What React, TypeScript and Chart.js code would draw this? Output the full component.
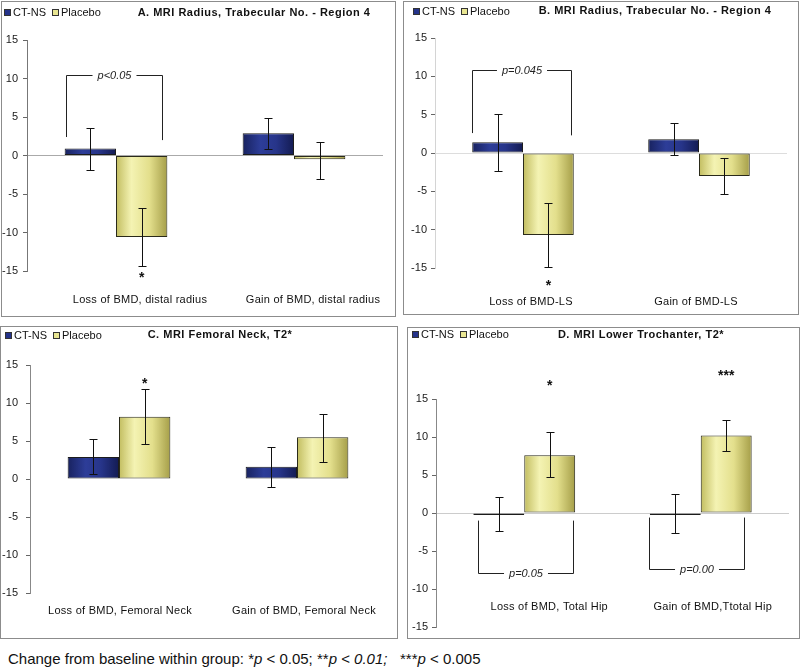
import React, { useEffect, useRef } from "react";
import { Chart, registerables } from "chart.js";
Chart.register(...registerables);

const seriesNames = ["CT-NS", "Placebo"];
const yTicks = [-15, -10, -5, 0, 5, 10, 15];

// Panel A
const titleA = "A. MRI Radius, Trabecular No. - Region 4";
const catsA = ["Loss of BMD, distal radius", "Gain of BMD, distal radius"];
const ctnsA = [0.9, 2.9];
const ctnsHiA = [3.6, 4.9];
const ctnsLoA = [-1.9, 0.8];
const placA = [-10.6, -0.5];
const placHiA = [-6.8, 1.8];
const placLoA = [-14.3, -3.0];

// Panel B
const titleB = "B. MRI Radius, Trabecular No. - Region 4";
const catsB = ["Loss of BMD-LS", "Gain of BMD-LS"];
const ctnsB = [1.4, 1.8];
const ctnsHiB = [5.1, 3.9];
const ctnsLoB = [-2.4, -0.2];
const placB = [-10.7, -3.0];
const placHiB = [-6.5, -0.7];
const placLoB = [-14.9, -5.4];

// Panel C
const titleC = "C. MRI Femoral Neck, T2*";
const catsC = ["Loss of BMD, Femoral Neck", "Gain of BMD, Femoral Neck"];
const ctnsC = [2.9, 1.6];
const ctnsHiC = [5.3, 4.2];
const ctnsLoC = [0.6, -1.1];
const placC = [8.2, 5.5];
const placHiC = [11.8, 8.5];
const placLoC = [4.6, 2.3];

// Panel D
const titleD = "D. MRI Lower Trochanter, T2*";
const catsD = ["Loss of BMD, Total Hip", "Gain of BMD,Ttotal Hip"];
const ctnsD = [-0.25, -0.25];
const ctnsHiD = [2.1, 2.5];
const ctnsLoD = [-2.4, -2.6];
const placD = [7.6, 10.2];
const placHiD = [10.6, 12.3];
const placLoD = [4.75, 8.2];

// significance annotations (values on the y scale)
const bracketsA = [{ cat: 0, from: -0.283, to: 0.261, startL: 2.4, startR: 2.0, end: 10.4, text: "p<0.05" }];
const bracketsB = [{ cat: 0, from: -0.291, to: 0.274, startL: 2.6, startR: 2.3, end: 10.8, text: "p=0.045" }];
const bracketsC: any[] = [];
const bracketsD = [
  { cat: 0, from: -0.264, to: 0.277, startL: -1.0, startR: -1.0, end: -7.9, text: "p=0.05" },
  { cat: 1, from: -0.293, to: 0.245, startL: -0.6, startR: -0.6, end: -7.4, text: "p=0.00" },
];
const starsA = [{ ds: 1, cat: 0, value: -15.4, text: "*" }];
const starsB = [{ ds: 1, cat: 0, value: -16.8, text: "*" }];
const starsC = [{ ds: 1, cat: 0, value: 13.0, text: "*" }];
const starsD = [
  { ds: 1, cat: 0, value: 17.3, text: "*" },
  { ds: 1, cat: 1, value: 18.6, text: "***" },
];

const FONT = '"Liberation Sans", Arial, sans-serif';

type PanelCfg = {
  key: string;
  title: string;
  cats: string[];
  ctns: number[];
  ctnsHi: number[];
  ctnsLo: number[];
  plac: number[];
  placHi: number[];
  placLo: number[];
  brackets: any[];
  stars: any[];
  box: { left: number; top: number; width: number; height: number };
  area: { left: number; top: number; right: number; bottom: number };
  tickPad: number;
  axisColor: string;
  zeroColor: string;
  labelDx: number[];
  labelDy: number;
  legend: { x: number; y: number };
  titlePos: { x: number; y: number };
};

const panels: PanelCfg[] = [
  {
    key: "A", title: titleA, cats: catsA,
    ctns: ctnsA, ctnsHi: ctnsHiA, ctnsLo: ctnsLoA, plac: placA, placHi: placHiA, placLo: placLoA,
    brackets: bracketsA, stars: starsA,
    box: { left: 1, top: 1, width: 395, height: 316 },
    area: { left: 27, top: 40, right: 383, bottom: 271 },
    tickPad: 5, axisColor: "#777", zeroColor: "#aaa",
    labelDx: [24, 19], labelDy: 29,
    legend: { x: 4, y: 12 }, titlePos: { x: 254, y: 13 },
  },
  {
    key: "B", title: titleB, cats: catsB,
    ctns: ctnsB, ctnsHi: ctnsHiB, ctnsLo: ctnsLoB, plac: placB, placHi: placHiB, placLo: placLoB,
    brackets: bracketsB, stars: starsB,
    box: { left: 403, top: 1, width: 396, height: 314 },
    area: { left: 435, top: 38, right: 787, bottom: 268 },
    tickPad: 4, axisColor: "#d4d4d4", zeroColor: "#ddd",
    labelDx: [8, -3], labelDy: 34,
    legend: { x: 413, y: 11 }, titlePos: { x: 655, y: 11 },
  },
  {
    key: "C", title: titleC, cats: catsC,
    ctns: ctnsC, ctnsHi: ctnsHiC, ctnsLo: ctnsLoC, plac: placC, placHi: placHiC, placLo: placLoC,
    brackets: bracketsC, stars: starsC,
    box: { left: 0, top: 326, width: 398, height: 313 },
    area: { left: 30, top: 365, right: 386, bottom: 593 },
    tickPad: 8, axisColor: "#888", zeroColor: "rgba(0,0,0,0)",
    labelDx: [1, 7], labelDy: 18,
    legend: { x: 5, y: 335 }, titlePos: { x: 220, y: 335 },
  },
  {
    key: "D", title: titleD, cats: catsD,
    ctns: ctnsD, ctnsHi: ctnsHiD, ctnsLo: ctnsLoD, plac: placD, placHi: placHiD, placLo: placLoD,
    brackets: bracketsD, stars: starsD,
    box: { left: 407, top: 327, width: 393, height: 312 },
    area: { left: 436, top: 399, right: 789, bottom: 627 },
    tickPad: 4, axisColor: "#888", zeroColor: "#ccc",
    labelDx: [25, 12], labelDy: -20,
    legend: { x: 412, y: 334 }, titlePos: { x: 641, y: 335 },
  },
];

const CAT_PCT = 0.577;

function barGradient(ds: number) {
  return (c: any) => {
    const chart = c.chart;
    const area = chart.chartArea;
    if (!area || c.dataIndex === undefined) return ds === 0 ? "#22307f" : "#e6e38c";
    const xs = chart.scales.x;
    const catW = (area.right - area.left) / chart.data.labels.length;
    const bw = (catW * CAT_PCT) / 2;
    const center = xs.getPixelForValue(c.dataIndex) + (ds === 0 ? -bw / 2 : bw / 2);
    const g = chart.ctx.createLinearGradient(center - bw / 2, 0, center + bw / 2, 0);
    if (ds === 0) {
      g.addColorStop(0, "#18225f");
      g.addColorStop(0.35, "#2d3d98");
      g.addColorStop(0.65, "#27358a");
      g.addColorStop(1, "#131b52");
    } else {
      g.addColorStop(0, "#c2bd60");
      g.addColorStop(0.3, "#f4f3b3");
      g.addColorStop(0.65, "#e3df8c");
      g.addColorStop(1, "#a59e48");
    }
    return g;
  };
}

function makeDeco(p: PanelCfg, cl: number, ct: number) {
  return {
    id: "deco" + p.key,
    afterDatasetsDraw(chart: any) {
      const ctx = chart.ctx as CanvasRenderingContext2D;
      const area = chart.chartArea;
      const xs = chart.scales.x;
      const ys = chart.scales.y;
      const catW = (area.right - area.left) / p.cats.length;
      ctx.save();
      // error bars
      const his = [p.ctnsHi, p.placHi];
      const los = [p.ctnsLo, p.placLo];
      ctx.strokeStyle = "#111";
      ctx.lineWidth = 1;
      for (let d = 0; d < 2; d++) {
        const meta = chart.getDatasetMeta(d);
        meta.data.forEach((el: any, i: number) => {
          const x = Math.round(el.x) + 0.5;
          const yh = Math.round(ys.getPixelForValue(his[d][i])) + 0.5;
          const yl = Math.round(ys.getPixelForValue(los[d][i])) + 0.5;
          ctx.beginPath();
          ctx.moveTo(x, yh);
          ctx.lineTo(x, yl);
          ctx.moveTo(x - 4, yh);
          ctx.lineTo(x + 4, yh);
          ctx.moveTo(x - 4, yl);
          ctx.lineTo(x + 4, yl);
          ctx.stroke();
        });
      }
      // brackets
      ctx.font = `italic 11px ${FONT}`;
      ctx.textAlign = "center";
      ctx.textBaseline = "middle";
      ctx.strokeStyle = "#222";
      p.brackets.forEach((b: any) => {
        const c0 = xs.getPixelForValue(b.cat);
        const x0 = Math.round(c0 + b.from * catW) + 0.5;
        const x1 = Math.round(c0 + b.to * catW) + 0.5;
        const yE = Math.round(ys.getPixelForValue(b.end)) + 0.5;
        const yL = ys.getPixelForValue(b.startL);
        const yR = ys.getPixelForValue(b.startR);
        const mid = (x0 + x1) / 2;
        const tw = ctx.measureText(b.text).width;
        ctx.beginPath();
        ctx.moveTo(x0, yL);
        ctx.lineTo(x0, yE);
        ctx.lineTo(mid - tw / 2 - 5, yE);
        ctx.moveTo(mid + tw / 2 + 5, yE);
        ctx.lineTo(x1, yE);
        ctx.lineTo(x1, yR);
        ctx.stroke();
        ctx.fillStyle = "#222";
        ctx.fillText(b.text, mid, yE);
      });
      // stars
      ctx.font = `bold 14px ${FONT}`;
      ctx.textBaseline = "alphabetic";
      ctx.fillStyle = "#111";
      p.stars.forEach((s: any) => {
        const el = chart.getDatasetMeta(s.ds).data[s.cat];
        const y = ys.getPixelForValue(s.value);
        ctx.fillText(s.text, el.x, y + 0.57 * 14);
      });
      // category labels
      ctx.font = `11px ${FONT}`;
      (ctx as any).letterSpacing = "0.25px";
      ctx.textBaseline = "middle";
      ctx.fillStyle = "#111";
      p.cats.forEach((c, i) => {
        ctx.fillText(c, xs.getPixelForValue(i) + p.labelDx[i], area.bottom + p.labelDy);
      });
      // legend
      (ctx as any).letterSpacing = "0px";
      ctx.font = `11px ${FONT}`;
      ctx.textAlign = "left";
      const lx = p.legend.x - cl;
      const ly = p.legend.y - ct;
      const sw = [
        { x: lx, fill: "#25338a", text: seriesNames[0] },
        { x: lx + 48, fill: "#e9e692", text: seriesNames[1] },
      ];
      sw.forEach((s) => {
        ctx.fillStyle = s.fill;
        ctx.fillRect(s.x, ly - 3, 6, 6);
        ctx.strokeStyle = "#333";
        ctx.strokeRect(s.x + 0.5, ly - 2.5, 6, 6);
        ctx.fillStyle = "#111";
        ctx.fillText(s.text, s.x + 9, ly + 0.5);
      });
      // title
      ctx.font = `bold 11px ${FONT}`;
      (ctx as any).letterSpacing = "0.5px";
      ctx.textAlign = "center";
      ctx.fillStyle = "#111";
      ctx.fillText(p.title, p.titlePos.x - cl, p.titlePos.y - ct);
      (ctx as any).letterSpacing = "0px";
      ctx.restore();
    },
  };
}

function PanelChart({ p }: { p: PanelCfg }) {
  const ref = useRef<HTMLCanvasElement>(null);
  const cw = p.box.width - 2;
  const ch = p.box.height - 2;
  const cl = p.box.left + 1;
  const ct = p.box.top + 1;
  useEffect(() => {
    const chart = new Chart(ref.current as HTMLCanvasElement, {
      type: "bar",
      data: {
        labels: p.cats,
        datasets: [
          { label: seriesNames[0], data: p.ctns, backgroundColor: barGradient(0) as any, borderColor: "#1c1c1c", borderWidth: 1, borderSkipped: false },
          { label: seriesNames[1], data: p.plac, backgroundColor: barGradient(1) as any, borderColor: "#2a2a1a", borderWidth: 1, borderSkipped: false },
        ],
      },
      options: {
        responsive: false,
        maintainAspectRatio: false,
        animation: false,
        devicePixelRatio: 1,
        layout: {
          padding: {
            left: 0,
            top: p.area.top - ct,
            right: cl + cw - p.area.right,
            bottom: ct + ch - p.area.bottom,
          },
        },
        datasets: { bar: { categoryPercentage: CAT_PCT, barPercentage: 1 } },
        plugins: { legend: { display: false }, title: { display: false }, tooltip: { enabled: false } },
        scales: {
          x: { display: false },
          y: {
            min: -15,
            max: 15,
            afterBuildTicks: (s: any) => {
              s.ticks = yTicks.map((v) => ({ value: v }));
            },
            afterFit: (s: any) => {
              s.width = p.area.left - cl;
            },
            ticks: { padding: p.tickPad, color: "#1a1a1a", font: { family: FONT, size: 11 } },
            grid: {
              color: (c: any) => (c.tick && c.tick.value === 0 ? p.zeroColor : "rgba(0,0,0,0)"),
              tickColor: "#666",
              tickLength: 4,
            },
            border: { display: true, color: p.axisColor, width: 1 },
          },
        },
      },
      plugins: [makeDeco(p, cl, ct)],
    } as any);
    return () => chart.destroy();
  }, []);
  return (
    <>
      <div
        style={{
          position: "absolute",
          left: p.box.left,
          top: p.box.top,
          width: p.box.width,
          height: p.box.height,
          boxSizing: "border-box",
          border: "1px solid #8c8c8c",
        }}
      />
      <canvas
        ref={ref}
        width={cw}
        height={ch}
        style={{ position: "absolute", left: cl, top: ct, width: cw, height: ch }}
      />
    </>
  );
}

export default function App() {
  return (
    <div style={{ position: "absolute", left: 0, top: 0, width: 800, height: 669, background: "#fff", overflow: "hidden" }}>
      {panels.map((p) => (
        <PanelChart key={p.key} p={p} />
      ))}
      <div
        style={{
          position: "absolute",
          left: 8,
          top: 650,
          whiteSpace: "pre",
          fontFamily: '"Liberation Sans", Arial, sans-serif',
          fontSize: 15,
          lineHeight: "17px",
          color: "#111",
        }}
      >
        Change from baseline within group: *<i>p</i> &lt; 0.05; **<i>p</i> &lt; <i>0.01;</i>{"   "}***<i>p</i> &lt; 0.005
      </div>
    </div>
  );
}
